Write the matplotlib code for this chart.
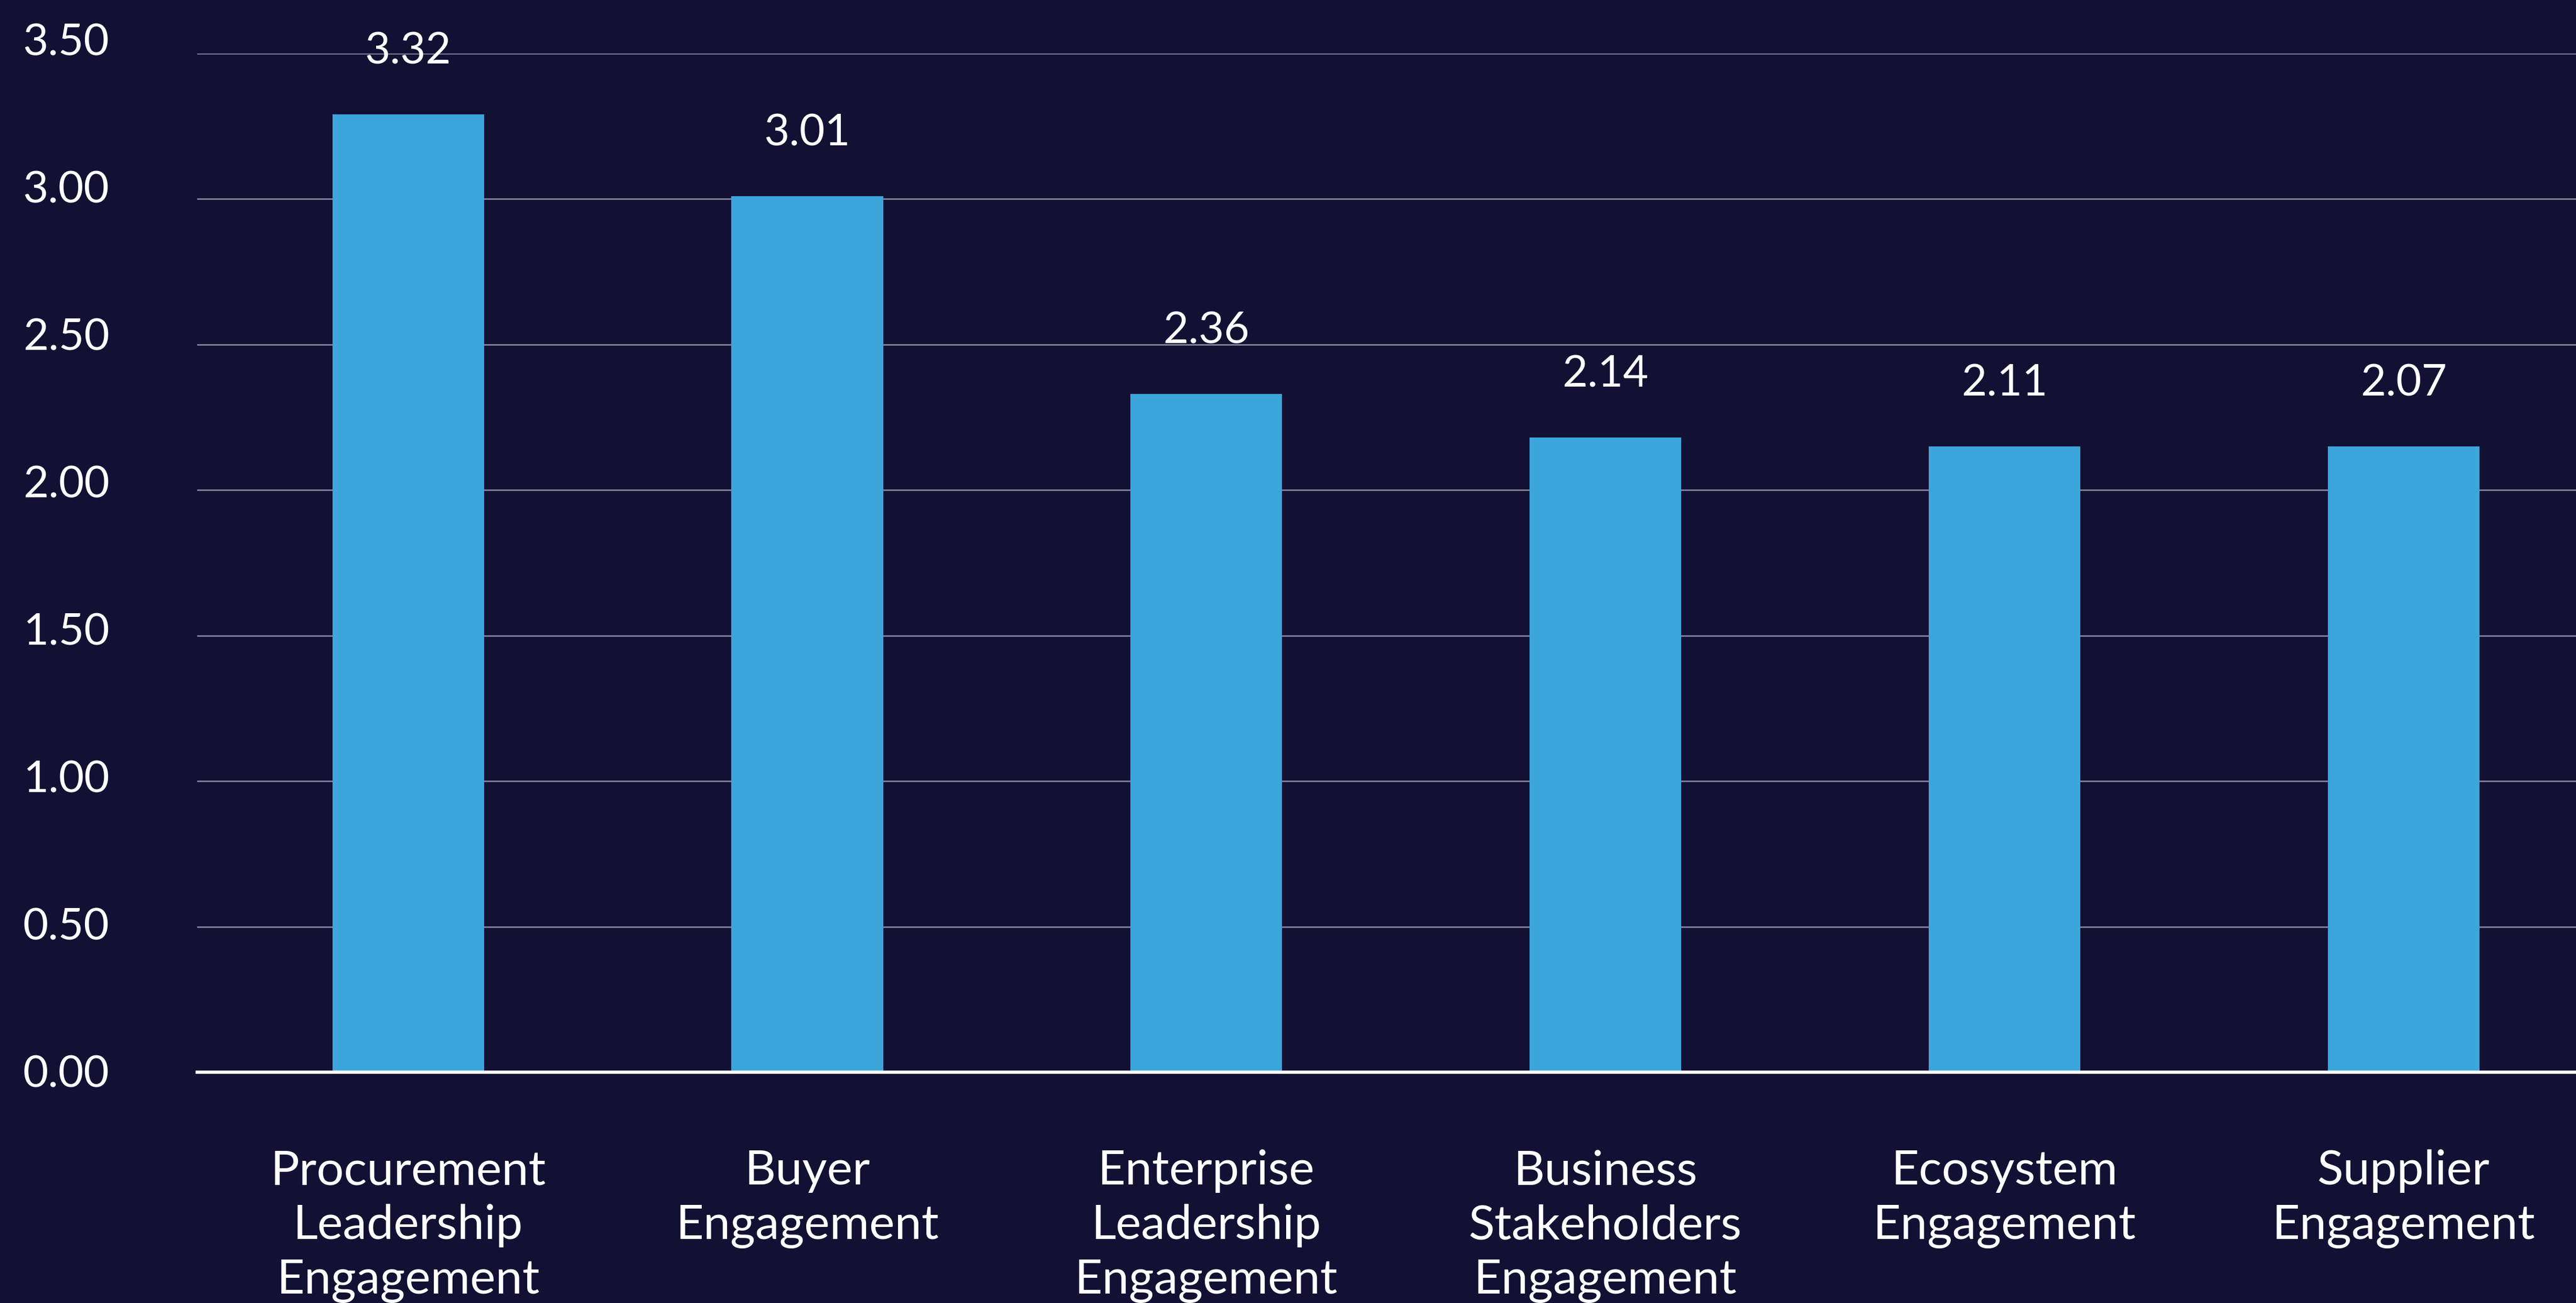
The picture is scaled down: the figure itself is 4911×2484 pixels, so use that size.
import numpy as np
import matplotlib
matplotlib.use("Agg")
from matplotlib import pyplot as plt
from matplotlib.transforms import ScaledTranslation

categories = ["Procurement\nLeadership\nEngagement", "Buyer\nEngagement",
              "Enterprise\nLeadership\nEngagement", "Business\nStakeholders\nEngagement",
              "Ecosystem\nEngagement", "Supplier\nEngagement"]
bar_values = [3.29, 3.01, 2.33, 2.18, 2.15, 2.15]
value_labels = ["3.32", "3.01", "2.36", "2.14", "2.11", "2.07"]
y_ticks = [0.0, 0.5, 1.0, 1.5, 2.0, 2.5, 3.0, 3.5]

bg = "#121133"
bar_color = "#3CA5DC"
plt.rcParams['font.family'] = ['Lato', 'DejaVu Sans']

fig = plt.figure(figsize=(49.11, 24.84), dpi=100, facecolor=bg)
ax = fig.add_axes([0.0765, 0.1771, 0.9235, 0.782])
ax.set_facecolor(bg)

x = np.arange(len(categories))
bars = ax.bar(x, bar_values, width=0.38, color=bar_color, zorder=3)

for b, lab in zip(bars, value_labels):
    ax.annotate(lab, (b.get_x() + b.get_width() / 2, b.get_height()),
                xytext=(0, 86), textcoords="offset points",
                ha="center", va="center", color="white", fontsize=60, zorder=4)

ax.set_xlim(-0.529, 5.432)
ax.set_ylim(0, 3.5)
ax.set_yticks(y_ticks)
ax.set_yticklabels([f"{t:.2f}" for t in y_ticks])
ax.yaxis.grid(True, color="#7d7b96", linewidth=2.2, zorder=0)
ax.set_axisbelow(True)
for s in ["top", "right", "left"]:
    ax.spines[s].set_visible(False)
ax.spines["bottom"].set_color("white")
ax.spines["bottom"].set_linewidth(4.5)
ax.spines["bottom"].set_zorder(5)

ax.tick_params(axis="y", length=0, pad=239, labelsize=60, labelcolor="white")
for t, v in zip(ax.get_yticklabels(), y_ticks):
    t.set_ha("left")
    t.set_transform(t.get_transform() + ScaledTranslation(0, 0.02 + 0.07 * v, fig.dpi_scale_trans))

ax.set_xticks(x)
ax.set_xticklabels(categories, fontsize=66, color="white", linespacing=1.31)
ax.tick_params(axis="x", length=0, pad=106)

fig.savefig("out.png", dpi=100, facecolor=bg)
